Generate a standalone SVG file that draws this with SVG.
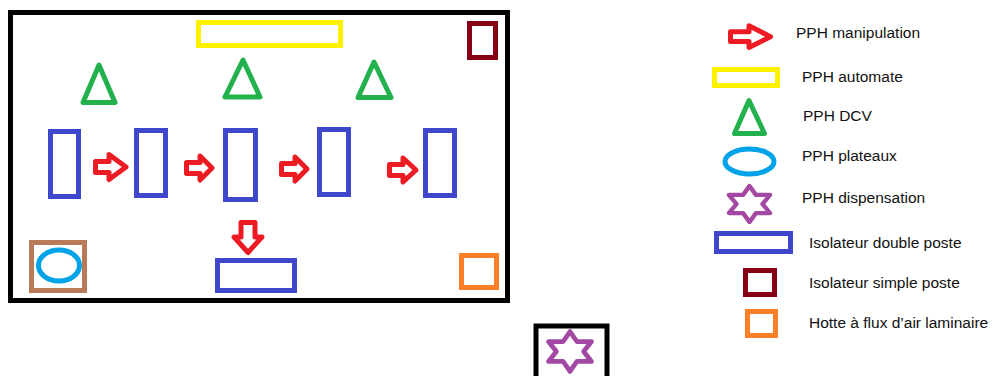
<svg xmlns="http://www.w3.org/2000/svg" width="997" height="376" viewBox="0 0 997 376">
<style>
.s{fill:none;stroke-width:5;stroke-linejoin:miter}
.frame{fill:none;stroke:#000;stroke-width:5}
.blue{stroke:#3F48CC}
.yel{stroke:#FFF200}
.grn{fill:none;stroke:#22B14C;stroke-width:5;stroke-linejoin:round}
.red{fill:none;stroke:#ED1C24;stroke-width:5;stroke-linejoin:round}
.dred{stroke:#880015}
.org{stroke:#FF7F27}
.brn{stroke:#B97A57}
.cyan{fill:none;stroke:#00A2E8;stroke-width:5}
.pur{fill:none;stroke:#A349A4;stroke-width:4.5;stroke-linejoin:round}
text{font-family:"Liberation Sans",Arial,sans-serif;font-size:15.5px;fill:#111}
</style>
<defs>
<path id="star" d="M0,-19 L6.5,-9.5 L20.5,-9.5 L13,0 L20.5,9.5 L6.5,9.5 L0,19 L-6.5,9.5 L-20.5,9.5 L-13,0 L-20.5,-9.5 L-6.5,-9.5 Z"/>
</defs>
<rect width="997" height="376" fill="#fff"/>

<g id="room">
<rect class="frame" x="10.5" y="12.5" width="497" height="288"/>
</g>
<g id="automate"><rect class="s yel" x="198.5" y="22.5" width="142" height="23"/></g>
<g id="isolateur-simple"><rect class="s dred" x="469.5" y="23.5" width="26" height="34"/></g>
<g id="dcv1"><path class="grn" d="M99,65 L115,102.5 L83,102.5 Z"/></g>
<g id="dcv2"><path class="grn" d="M243,60 L260,97 L225,97 Z"/></g>
<g id="dcv3"><path class="grn" d="M374,62 L391,97.5 L358,97.5 Z"/></g>
<g id="iso1"><rect class="s blue" x="50.5" y="131.5" width="28" height="65"/></g>
<g id="iso2"><rect class="s blue" x="136.5" y="130.5" width="29" height="65"/></g>
<g id="iso3"><rect class="s blue" x="225.5" y="130.5" width="30" height="69"/></g>
<g id="iso4"><rect class="s blue" x="319.5" y="129.5" width="29" height="65"/></g>
<g id="iso5"><rect class="s blue" x="425.5" y="130.5" width="29" height="65"/></g>
<g id="iso-bottom"><rect class="s blue" x="217.5" y="260.5" width="77" height="30"/></g>
<g id="plateaux">
<rect class="s brn" x="31.5" y="242.5" width="53" height="48"/>
<ellipse class="cyan" cx="59" cy="265.5" rx="20.5" ry="15.5"/>
</g>
<g id="hotte"><rect class="s org" x="461.5" y="255.5" width="35" height="32"/></g>
<g id="dispensation">
<rect class="frame" x="536" y="326" width="71" height="60"/>
<use href="#star" class="pur" transform="translate(570,351.5) scale(1.05,1.05)"/>
</g>

<g id="connectors">
<path class="red" d="M95.5,161.5 H109 V154.5 L126,167 L109,179.5 V172.5 H95.5 Z"/>
<path class="red" d="M186.5,162.5 H200 V156 L212,168 L200,180 V173.5 H186.5 Z"/>
<path class="red" d="M281.5,163.5 H295 V157 L307,169 L295,181 V174.5 H281.5 Z"/>
<path class="red" d="M389.5,164.5 H403 V158 L416,170 L403,182 V175.5 H389.5 Z"/>
<path class="red" d="M241,222.5 H255 V237 H262 L248,252.5 L234,237 H241 Z"/>
</g>

<g id="legend">
<path class="red" d="M730.5,31.8 H749 V25.8 L770.5,36.7 L749,47.5 V41.6 H730.5 Z"/>
<text x="796" y="38">PPH manipulation</text>
<rect class="s yel" x="714.5" y="69.5" width="63" height="16"/>
<text x="802" y="82">PPH automate</text>
<path class="grn" d="M749,100.5 L764.5,133.5 L734.5,133.5 Z"/>
<text x="803" y="121">PPH DCV</text>
<ellipse class="cyan" cx="749.5" cy="161.5" rx="24.5" ry="12.5"/>
<text x="802" y="161">PPH plateaux</text>
<use href="#star" class="pur" transform="translate(749.5,204) scale(1,0.95)"/>
<text x="802" y="203">PPH dispensation</text>
<rect class="s blue" x="716.5" y="233.5" width="74" height="18"/>
<text x="809" y="248">Isolateur double poste</text>
<rect class="s dred" x="745.5" y="270.5" width="29" height="24"/>
<text x="809" y="288">Isolateur simple poste</text>
<rect class="s org" x="747.5" y="311.5" width="28" height="24"/>
<text x="809" y="328">Hotte à flux d’air laminaire</text>
</g>
</svg>
